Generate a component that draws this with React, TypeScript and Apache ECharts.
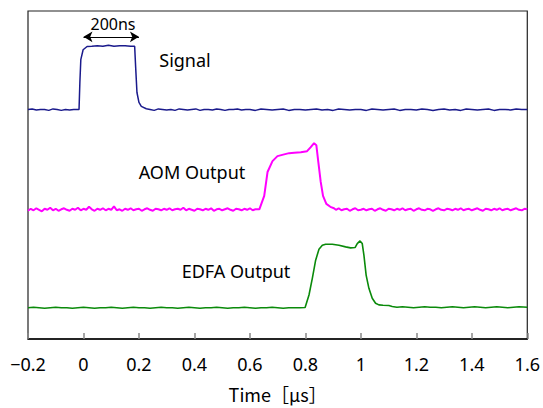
import React, { useEffect, useRef } from "react";
import * as echarts from "echarts";

// Time [µs] / relative level (arbitrary units) pairs
const signalTrace: number[][] = [
  [-0.2, 231], [-0.185, 231.5], [-0.17, 230.5], [-0.155, 231], [-0.14, 231], [-0.125, 230], [-0.11, 231.5],
  [-0.095, 231], [-0.08, 230], [-0.065, 231], [-0.05, 230.5], [-0.035, 231], [-0.02, 231], [-0.016, 231],
  [-0.013, 258], [-0.0096, 281], [-0.0013, 291], [0.013, 294.3], [0.03, 294.5], [0.05, 295], [0.07, 294.5],
  [0.09, 295.5], [0.11, 294.5], [0.13, 295], [0.15, 295], [0.17, 294.5], [0.1845, 294.5], [0.188, 274],
  [0.1928, 248], [0.2, 238], [0.2085, 234], [0.2265, 231.7],
  [0.24, 231], [0.255, 230], [0.27, 231.5], [0.285, 231], [0.3, 230.5], [0.315, 231], [0.33, 230], [0.345, 231.5],
  [0.36, 231], [0.375, 230.5], [0.39, 231], [0.405, 231.5], [0.42, 230], [0.435, 231], [0.45, 231], [0.465, 230.5],
  [0.48, 231.5], [0.495, 231], [0.51, 230], [0.525, 231], [0.54, 231], [0.555, 231.5], [0.57, 230.5], [0.585, 231],
  [0.6, 231], [0.62, 230], [0.64, 231.5], [0.66, 231], [0.68, 230.5], [0.7, 231], [0.72, 231.5], [0.74, 230],
  [0.76, 231], [0.78, 231], [0.8, 230.5], [0.82, 231], [0.84, 231.5], [0.86, 230.5], [0.88, 231], [0.9, 230],
  [0.92, 231.5], [0.94, 231], [0.96, 230.5], [0.98, 231], [1.0, 231], [1.02, 230], [1.04, 231.5], [1.06, 231],
  [1.08, 230.5], [1.1, 231], [1.12, 231.5], [1.14, 230], [1.16, 231], [1.18, 231], [1.2, 230.5], [1.22, 231.5],
  [1.24, 231], [1.26, 230], [1.28, 231], [1.3, 231.5], [1.32, 230.5], [1.34, 231], [1.36, 230], [1.38, 231.5],
  [1.4, 231], [1.42, 230.5], [1.44, 231], [1.46, 231.5], [1.48, 230], [1.5, 231], [1.52, 231], [1.54, 230.5],
  [1.56, 231.5], [1.58, 231], [1.6, 231],
];

const aomTrace: number[][] = [
  [-0.2, 129], [-0.19, 131], [-0.18, 129.5], [-0.17, 131.5], [-0.16, 130], [-0.15, 128.5], [-0.14, 131],
  [-0.13, 130], [-0.12, 132], [-0.11, 129.5], [-0.1, 131], [-0.09, 129], [-0.08, 130.5], [-0.07, 131.5],
  [-0.06, 130], [-0.05, 129], [-0.04, 131], [-0.03, 130], [-0.02, 132], [-0.01, 129.5], [0, 131], [0.01, 130],
  [0.02, 133], [0.03, 130.5], [0.04, 129], [0.05, 131], [0.06, 130], [0.07, 131.5], [0.08, 129.5], [0.09, 131],
  [0.1, 130], [0.11, 133.5], [0.12, 129.5], [0.13, 130.5], [0.14, 129], [0.15, 131], [0.16, 130], [0.17, 131.5],
  [0.18, 129.5], [0.19, 130.5], [0.2, 131], [0.21, 129], [0.22, 130.5], [0.23, 131.5], [0.24, 130], [0.25, 129],
  [0.26, 131], [0.27, 130.5], [0.28, 129.5], [0.29, 131], [0.3, 130], [0.31, 131.5], [0.32, 129.5], [0.33, 130.5],
  [0.34, 131], [0.35, 130], [0.36, 132], [0.37, 129.5], [0.38, 131], [0.39, 130], [0.4, 129], [0.41, 131],
  [0.42, 130.5], [0.43, 129.5], [0.44, 131], [0.45, 130], [0.46, 131.5], [0.47, 129], [0.48, 130.5], [0.49, 131],
  [0.5, 129.5], [0.51, 130.5], [0.52, 131.5], [0.53, 130], [0.54, 129], [0.55, 131], [0.56, 130.5], [0.57, 129.5],
  [0.58, 131], [0.59, 130], [0.6, 131.5], [0.61, 129.5], [0.62, 130.5], [0.634, 130.5],
  [0.6516, 144], [0.6635, 168], [0.6814, 179], [0.6994, 184], [0.72, 185.5], [0.7414, 187], [0.76, 187.5],
  [0.7835, 188], [0.8061, 189], [0.8194, 193], [0.8313, 197], [0.8395, 195], [0.8467, 178], [0.8553, 158],
  [0.8636, 144], [0.8755, 136], [0.89, 133], [0.9031, 131.5],
  [0.91, 130], [0.92, 131.5], [0.93, 129.5], [0.94, 130.5], [0.95, 131], [0.96, 129], [0.97, 130.5], [0.98, 131.5],
  [0.99, 129.5], [1.0, 130], [1.01, 131], [1.02, 129.5], [1.03, 130.5], [1.04, 131], [1.05, 129], [1.06, 130.5],
  [1.07, 131.5], [1.08, 130], [1.09, 129], [1.1, 131], [1.11, 130.5], [1.12, 129.5], [1.13, 131], [1.14, 130],
  [1.15, 131.5], [1.16, 129.5], [1.17, 130.5], [1.18, 131], [1.19, 129], [1.2, 130.5], [1.21, 131.5], [1.22, 130],
  [1.23, 129.5], [1.24, 131], [1.25, 130.5], [1.26, 129], [1.27, 130.5], [1.28, 131.5], [1.29, 130], [1.3, 129.5],
  [1.31, 131], [1.32, 130.5], [1.33, 129.5], [1.34, 131], [1.35, 130], [1.36, 131.5], [1.37, 129.5], [1.38, 130.5],
  [1.39, 131], [1.4, 129.5], [1.41, 130.5], [1.42, 131.5], [1.43, 130], [1.44, 129], [1.45, 131], [1.46, 130.5],
  [1.47, 129.5], [1.48, 131], [1.49, 130], [1.5, 131.5], [1.51, 129.5], [1.52, 130.5], [1.53, 131], [1.54, 129.5],
  [1.55, 130.5], [1.56, 131.5], [1.57, 130], [1.58, 129.5], [1.59, 131], [1.6, 130.5],
];

const edfaTrace: number[][] = [
  [-0.2, 31.5], [-0.18, 32], [-0.16, 31.5], [-0.14, 31], [-0.12, 31.5], [-0.1, 32], [-0.08, 31.5], [-0.06, 31.5],
  [-0.04, 31], [-0.02, 31.5], [0, 32], [0.02, 31.5], [0.04, 31], [0.06, 31.5], [0.08, 31.5], [0.1, 32], [0.12, 31.5],
  [0.14, 31], [0.16, 31.5], [0.18, 32], [0.2, 31.5], [0.22, 31.5], [0.24, 31], [0.26, 31.5], [0.28, 32], [0.3, 31.5],
  [0.32, 31.5], [0.34, 31], [0.36, 31.5], [0.38, 32], [0.4, 31.5], [0.42, 31], [0.44, 31.5], [0.46, 31.5], [0.48, 32],
  [0.5, 31.5], [0.52, 31], [0.54, 31.5], [0.56, 31.5], [0.58, 32], [0.6, 31.5], [0.62, 31], [0.64, 31.5], [0.66, 31.5],
  [0.68, 32], [0.7, 31.5], [0.72, 31], [0.74, 31.5], [0.76, 31.5], [0.78, 31.5], [0.799, 31.7],
  [0.813, 44.3], [0.825, 61], [0.837, 79.3], [0.849, 90.3], [0.861, 94.3], [0.873, 95.3], [0.897, 95.3],
  [0.921, 94.3], [0.945, 92.7], [0.963, 91.7], [0.979, 92], [0.987, 96], [0.997, 98.7], [1.005, 96], [1.011, 84.3],
  [1.019, 64.3], [1.029, 51], [1.041, 41], [1.053, 36], [1.065, 34.3], [1.08, 34], [1.101, 33.7], [1.113, 32.7],
  [1.13, 32], [1.15, 32.5], [1.17, 32], [1.19, 31.5], [1.21, 32], [1.23, 32.5], [1.25, 32], [1.27, 32], [1.29, 31.5],
  [1.31, 32], [1.33, 32.5], [1.35, 32], [1.37, 31.5], [1.39, 32], [1.41, 32.5], [1.43, 32], [1.45, 31.5], [1.47, 32],
  [1.49, 32.5], [1.51, 32], [1.53, 31.5], [1.55, 32], [1.57, 32.5], [1.6, 32],
];

const xMin = -0.2;
const xMax = 1.6;
const xStep = 0.2;
const pulseSpan = [0, 0.2];
const pulseArrowLevel = 304;

const FONT = "Noto Sans";

export default function App() {
  const ref = useRef<HTMLDivElement>(null);

  useEffect(() => {
    if (!ref.current) return;
    const chart = echarts.init(ref.current, null, { renderer: "svg" });
    chart.setOption({
      animation: false,
      backgroundColor: "#fff",
      textStyle: { fontFamily: FONT },
      grid: {
        left: 28,
        right: 14,
        top: 11,
        bottom: 67,
        show: true,
        borderColor: "#222",
        borderWidth: 1.2,
        backgroundColor: "transparent",
      },
      xAxis: {
        type: "value",
        min: xMin,
        max: xMax,
        interval: xStep,
        name: "Time［μs］",
        nameLocation: "middle",
        nameGap: 46,
        nameTextStyle: { color: "#000", fontSize: 18, fontFamily: "Noto Sans CJK JP" },
        axisLine: { onZero: false, lineStyle: { color: "#000", width: 1.5 } },
        axisTick: { inside: true, length: 6, lineStyle: { color: "#888", width: 1.5 } },
        axisLabel: {
          color: "#000",
          fontSize: 18,
          margin: 16,
          fontFamily: FONT,
          formatter: (v: number) => {
            const r = Math.round(v * 10) / 10;
            return r < 0 ? "\u2212" + String(-r) : String(r);
          },
        },
        splitLine: { show: false },
      },
      yAxis: {
        type: "value",
        min: 0,
        max: 330,
        show: false,
      },
      series: [
        {
          type: "line",
          name: "Signal",
          data: signalTrace,
          showSymbol: false,
          lineStyle: { color: "#1a1a8c", width: 1.5 },
          markLine: {
            silent: true,
            symbol: ["arrow", "arrow"],
            symbolSize: [8, 9],
            label: { show: false },
            lineStyle: { color: "#000", width: 1.2, type: "solid" },
            data: [[{ coord: [pulseSpan[0], pulseArrowLevel] }, { coord: [pulseSpan[1], pulseArrowLevel] }]],
          },
        },
        {
          type: "line",
          name: "AOM Output",
          data: aomTrace,
          showSymbol: false,
          lineStyle: { color: "#ff00ff", width: 2 },
        },
        {
          type: "line",
          name: "EDFA Output",
          data: edfaTrace,
          showSymbol: false,
          lineStyle: { color: "#0a8a0a", width: 1.6 },
        },
      ],
      graphic: [
        {
          type: "text",
          x: 113,
          y: 24,
          style: { text: "200ns", fontSize: 16, fontFamily: FONT, fill: "#000", textAlign: "center", textVerticalAlign: "middle" },
        },
        {
          type: "text",
          x: 185,
          y: 60,
          style: { text: "Signal", fontSize: 18, fontFamily: FONT, fill: "#000", textAlign: "center", textVerticalAlign: "middle" },
        },
        {
          type: "text",
          x: 192,
          y: 172,
          style: { text: "AOM Output", fontSize: 18, fontFamily: FONT, fill: "#000", textAlign: "center", textVerticalAlign: "middle" },
        },
        {
          type: "text",
          x: 236,
          y: 271,
          style: { text: "EDFA Output", fontSize: 18, fontFamily: FONT, fill: "#000", textAlign: "center", textVerticalAlign: "middle" },
        },
      ],
    });
    return () => chart.dispose();
  }, []);

  return <div ref={ref} style={{ width: 543, height: 408, position: "absolute", left: 0, top: 0 }} />;
}
